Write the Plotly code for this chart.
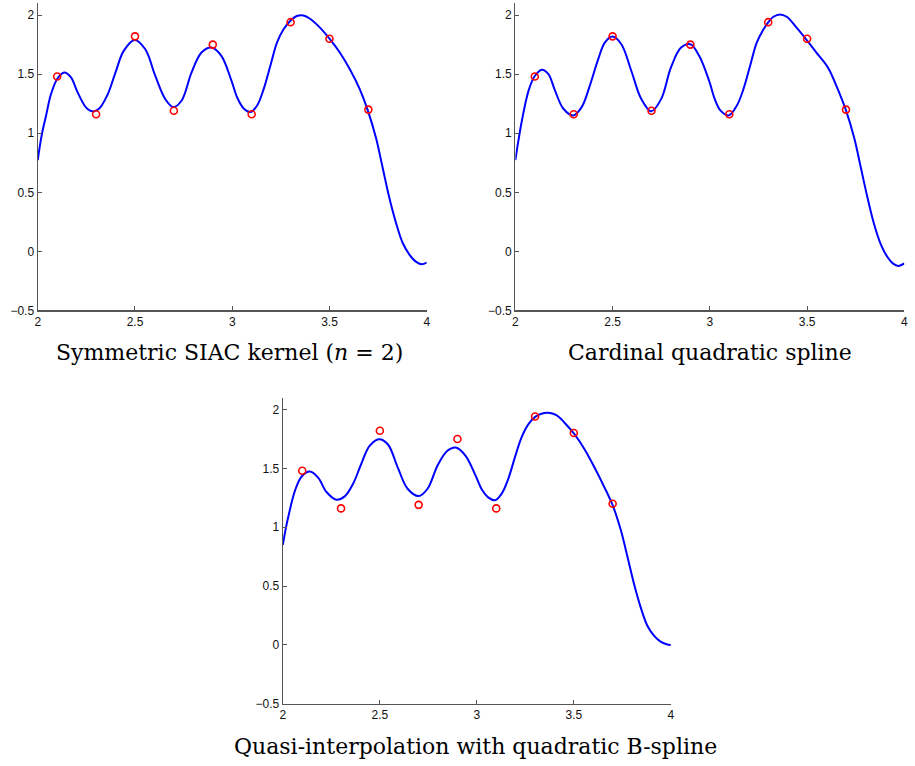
import plotly.graph_objects as go

# Sample nodes (red circles), shared by all panels
node_x = [2.1, 2.3, 2.5, 2.7, 2.9, 3.1, 3.3, 3.5, 3.7]
node_y = [1.48, 1.16, 1.82, 1.19, 1.75, 1.16, 1.94, 1.80, 1.20]

# Panel 1: Symmetric SIAC kernel (n = 2)
siac_x = [2.000, 2.020, 2.043, 2.068, 2.102, 2.136, 2.170, 2.204, 2.247, 2.281, 2.315,
          2.357, 2.400, 2.442, 2.498, 2.553, 2.604, 2.655, 2.697, 2.740, 2.791,
          2.842, 2.893, 2.944, 2.995, 3.026, 3.060, 3.094, 3.128, 3.162, 3.196,
          3.230, 3.264, 3.298, 3.332, 3.366, 3.400, 3.451, 3.502, 3.553, 3.604,
          3.655, 3.697, 3.740, 3.774, 3.808, 3.842, 3.876, 3.910, 3.944, 3.974, 4.000]
siac_y = [0.773, 0.980, 1.150, 1.330, 1.465, 1.515, 1.475, 1.350, 1.221, 1.185, 1.207,
          1.319, 1.515, 1.697, 1.790, 1.711, 1.487, 1.291, 1.221, 1.277, 1.515,
          1.683, 1.725, 1.655, 1.450, 1.300, 1.207, 1.179, 1.235, 1.375, 1.571,
          1.767, 1.880, 1.950, 1.992, 1.997, 1.969, 1.894, 1.796, 1.683, 1.543,
          1.375, 1.193, 0.955, 0.703, 0.451, 0.241, 0.073, -0.025, -0.087, -0.109, -0.095]

# Panel 2: Cardinal quadratic spline
card_x = [2.000, 2.017, 2.034, 2.068, 2.099, 2.136, 2.170, 2.204, 2.247, 2.298, 2.341,
          2.383, 2.426, 2.460, 2.499, 2.545, 2.596, 2.647, 2.698, 2.750, 2.800,
          2.852, 2.900, 2.945, 2.997, 3.025, 3.054, 3.097, 3.139, 3.173, 3.207,
          3.241, 3.276, 3.301, 3.327, 3.361, 3.395, 3.446, 3.497, 3.548, 3.607,
          3.650, 3.700, 3.743, 3.777, 3.811, 3.845, 3.879, 3.913, 3.942, 3.969, 4.000]
card_y = [0.773, 0.950, 1.110, 1.361, 1.482, 1.538, 1.501, 1.361, 1.207, 1.151, 1.221,
          1.403, 1.627, 1.767, 1.818, 1.753, 1.529, 1.291, 1.185, 1.291, 1.557,
          1.725, 1.753, 1.655, 1.440, 1.290, 1.193, 1.151, 1.235, 1.375, 1.571,
          1.767, 1.880, 1.941, 1.986, 2.006, 1.986, 1.894, 1.790, 1.683, 1.557,
          1.403, 1.193, 0.955, 0.703, 0.451, 0.227, 0.059, -0.048, -0.104, -0.123, -0.101]

# Panel 3: Quasi-interpolation with quadratic B-spline
quasi_x = [2.000, 2.014, 2.029, 2.063, 2.097, 2.140, 2.183, 2.225, 2.276, 2.319, 2.362,
           2.404, 2.447, 2.495, 2.541, 2.592, 2.643, 2.700, 2.746, 2.797, 2.848,
           2.891, 2.942, 2.993, 3.026, 3.060, 3.094, 3.128, 3.162, 3.196, 3.230,
           3.265, 3.299, 3.333, 3.367, 3.410, 3.452, 3.503, 3.555, 3.606, 3.657,
           3.700, 3.742, 3.776, 3.811, 3.845, 3.879, 3.913, 3.947, 3.978, 4.000]
quasi_y = [0.850, 0.980, 1.095, 1.313, 1.431, 1.473, 1.419, 1.299, 1.234, 1.262, 1.369,
           1.537, 1.691, 1.748, 1.705, 1.509, 1.327, 1.265, 1.327, 1.523, 1.649,
           1.677, 1.607, 1.440, 1.320, 1.251, 1.229, 1.285, 1.411, 1.593, 1.762,
           1.874, 1.935, 1.964, 1.972, 1.952, 1.888, 1.790, 1.663, 1.509, 1.341,
           1.187, 0.976, 0.752, 0.513, 0.317, 0.163, 0.079, 0.028, 0.006, 0.000]

x_ticks = [2, 2.5, 3, 3.5, 4]
x_tick_labels = ["2", "2.5", "3", "3.5", "4"]
y_ticks = [-0.5, 0, 0.5, 1, 1.5, 2]
y_tick_labels = ["\u22120.5", "0", "0.5", "1", "1.5", "2"]

titles = ["Symmetric SIAC kernel (<i>n</i> = 2)",
          "Cardinal quadratic spline",
          "Quasi-interpolation with quadratic B-spline"]

W, H = 915, 766
panels = [
    dict(curve=(siac_x, siac_y), xd=(35.0, 427.0), yd=(3.3, 313.3), title_xy=(228, 356)),
    dict(curve=(card_x, card_y), xd=(516.3, 908.3), yd=(3.3, 313.3), title_xy=(712, 356)),
    dict(curve=(quasi_x, quasi_y), xd=(282.0, 673.0), yd=(401.4, 710.3), title_xy=(476, 753)),
]

fig = go.Figure()
axis_color = "#555555"
tick_font = dict(family="Liberation Sans, Arial, sans-serif", size=12, color="#111111")

for i, p in enumerate(panels):
    k = "" if i == 0 else str(i + 1)
    cx, cy = p["curve"]
    fig.add_trace(go.Scatter(x=cx, y=cy, mode="lines",
                             line=dict(color="#0000ff", width=2, shape="spline", smoothing=1.0),
                             xaxis="x" + k, yaxis="y" + k, showlegend=False, hoverinfo="skip",
                             cliponaxis=False))
    fig.add_trace(go.Scatter(x=node_x, y=node_y, mode="markers",
                             marker=dict(symbol="circle-open", size=7, color="#ff0000",
                                         line=dict(width=1.6, color="#ff0000")),
                             xaxis="x" + k, yaxis="y" + k, showlegend=False, hoverinfo="skip"))
    common = dict(showline=True, linecolor=axis_color, linewidth=1.2, mirror=False,
                  ticks="inside", ticklen=4, tickcolor=axis_color, tickwidth=1,
                  showgrid=False, zeroline=False, tickfont=tick_font)
    fig.layout["xaxis" + k] = dict(domain=[p["xd"][0] / W, p["xd"][1] / W], range=[2, 4],
                                   tickvals=x_ticks, ticktext=x_tick_labels,
                                   anchor="y" + k, **common)
    fig.layout["yaxis" + k] = dict(domain=[1 - p["yd"][1] / H, 1 - p["yd"][0] / H],
                                   range=[-0.5, 2.1], tickvals=y_ticks, ticktext=y_tick_labels,
                                   anchor="x" + k, **common)
    tx, ty = p["title_xy"]
    fig.add_annotation(text=titles[i], x=tx / W, y=1 - ty / H, xref="paper", yref="paper",
                       showarrow=False, xanchor="center", yanchor="middle",
                       font=dict(family="DejaVu Serif, serif", size=22, color="#000000"))

fig.update_layout(width=W, height=H, margin=dict(l=0, r=0, t=0, b=0),
                  paper_bgcolor="white", plot_bgcolor="white")

fig.write_html("out.html", config={"displayModeBar": False, "staticPlot": True},
               post_script="document.body.style.margin='0';document.body.style.overflow='hidden';")
